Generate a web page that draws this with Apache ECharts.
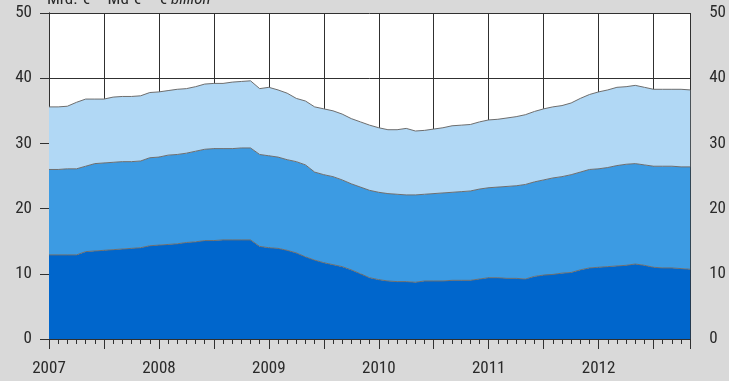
<!DOCTYPE html>
<html>
<head>
<meta charset="utf-8">
<script src="https://cdn.jsdelivr.net/npm/echarts@6/dist/echarts.min.js"></script>
<style>
  html, body { margin: 0; padding: 0; background: #d9d9d9; }
  #chart { width: 729px; height: 381px; }
</style>
</head>
<body>
<div id="chart"></div>
<script>
// Monthly observations, January 2007 to November 2012
const months = [
  '2007-01','2007-02','2007-03','2007-04','2007-05','2007-06','2007-07','2007-08','2007-09','2007-10','2007-11','2007-12',
  '2008-01','2008-02','2008-03','2008-04','2008-05','2008-06','2008-07','2008-08','2008-09','2008-10','2008-11','2008-12',
  '2009-01','2009-02','2009-03','2009-04','2009-05','2009-06','2009-07','2009-08','2009-09','2009-10','2009-11','2009-12',
  '2010-01','2010-02','2010-03','2010-04','2010-05','2010-06','2010-07','2010-08','2010-09','2010-10','2010-11','2010-12',
  '2011-01','2011-02','2011-03','2011-04','2011-05','2011-06','2011-07','2011-08','2011-09','2011-10','2011-11','2011-12',
  '2012-01','2012-02','2012-03','2012-04','2012-05','2012-06','2012-07','2012-08','2012-09','2012-10','2012-11'
];

const yearLabels = ['2007', '2008', '2009', '2010', '2011', '2012'];

// € billion, stacked from the bottom up
const lower = [
  12.9, 12.9, 12.9, 12.9, 13.4, 13.5, 13.6, 13.7, 13.8, 13.9, 14.0, 14.3,
  14.4, 14.5, 14.6, 14.8, 14.9, 15.1, 15.1, 15.2, 15.2, 15.2, 15.2, 14.2,
  14.0, 13.9, 13.6, 13.2, 12.6, 12.1, 11.7, 11.4, 11.1, 10.6, 10.0, 9.4,
  9.1, 8.9, 8.8, 8.8, 8.7, 8.9, 8.9, 8.9, 9.0, 9.0, 9.0, 9.2,
  9.4, 9.4, 9.3, 9.3, 9.2, 9.6, 9.8, 9.9, 10.1, 10.2, 10.6, 10.9,
  11.0, 11.1, 11.2, 11.3, 11.5, 11.3, 11.0, 10.9, 10.9, 10.8, 10.7
];
const middle = [
  13.1, 13.1, 13.2, 13.2, 13.1, 13.4, 13.4, 13.4, 13.4, 13.3, 13.3, 13.5,
  13.5, 13.7, 13.7, 13.7, 13.9, 14.0, 14.1, 14.0, 14.0, 14.1, 14.1, 14.1,
  14.1, 14.0, 13.9, 14.0, 14.1, 13.5, 13.5, 13.5, 13.3, 13.2, 13.3, 13.4,
  13.4, 13.4, 13.4, 13.3, 13.4, 13.3, 13.4, 13.5, 13.5, 13.6, 13.7, 13.8,
  13.8, 13.9, 14.1, 14.2, 14.5, 14.5, 14.6, 14.8, 14.8, 15.0, 15.0, 15.1,
  15.1, 15.2, 15.4, 15.5, 15.4, 15.4, 15.5, 15.6, 15.6, 15.6, 15.7
];
const upper = [
  9.6, 9.6, 9.6, 10.2, 10.3, 9.9, 9.8, 10.0, 10.0, 10.0, 10.0, 10.0,
  10.0, 9.9, 10.0, 9.9, 9.9, 10.0, 10.0, 10.0, 10.2, 10.2, 10.3, 10.1,
  10.5, 10.3, 10.2, 9.7, 9.8, 10.0, 10.1, 10.1, 10.1, 10.0, 10.0, 10.0,
  9.9, 9.8, 9.9, 10.2, 9.8, 9.8, 9.9, 10.0, 10.2, 10.2, 10.2, 10.3,
  10.4, 10.4, 10.5, 10.6, 10.7, 10.8, 10.9, 10.9, 10.9, 11.0, 11.3, 11.5,
  11.8, 11.9, 12.0, 11.9, 12.0, 11.9, 11.8, 11.8, 11.8, 11.9, 11.8
];

const FONT = '"Roboto Condensed", "Liberation Sans Narrow", "DejaVu Sans Condensed", "Open Sans Condensed", "Liberation Sans", sans-serif';
const STRETCH = 'condensed';
const INK = '#2a2a2a';
const GRIDLINE = '#303030';
const EDGE = '#6e6e6e';

const chart = echarts.init(document.getElementById('chart'), null, { renderer: 'canvas' });

const lastMonth = months.length - 1;

function areaSeries(name, values, color) {
  return {
    name: name,
    type: 'line',
    stack: 'total',
    xAxisIndex: 2,
    yAxisIndex: 0,
    data: values,
    symbol: 'none',
    smooth: false,
    lineStyle: { color: EDGE, width: 1 },
    areaStyle: { color: color, opacity: 1 },
    emphasis: { disabled: true },
    animation: false
  };
}

const labelFont = { color: INK, fontFamily: FONT, fontWeight: STRETCH, fontSize: 17 };

chart.setOption({
  backgroundColor: '#d9d9d9',
  animation: false,
  grid: {
    left: 49, right: 35, top: 13, bottom: 42,
    show: true, backgroundColor: '#ffffff', borderWidth: 0
  },
  graphic: [{
    type: 'text',
    left: 47,
    top: -9,
    style: {
      text: '{a|Mrd. € – Md € – € }{b|billion}',
      rich: {
        a: { fontFamily: FONT, fontWeight: STRETCH, fontSize: 17, fill: INK },
        b: { fontFamily: FONT, fontWeight: STRETCH, fontStyle: 'italic', fontSize: 17, fill: INK }
      }
    }
  }],
  xAxis: [
    {
      // half-year grid, long ticks, year labels
      type: 'value', min: 0, max: lastMonth, interval: 6,
      position: 'bottom',
      axisLine: { show: true, lineStyle: { color: GRIDLINE, width: 1 } },
      axisTick: { show: true, length: 10, lineStyle: { color: GRIDLINE, width: 1 } },
      axisLabel: Object.assign({
        show: true, margin: 21,
        formatter: v => (v % 12 === 0 && v / 12 < yearLabels.length) ? yearLabels[v / 12] : ''
      }, labelFont),
      splitLine: { show: true, lineStyle: { color: GRIDLINE, width: 1 } }
    },
    {
      // monthly short ticks
      type: 'value', min: 0, max: lastMonth, interval: 1,
      position: 'bottom',
      axisLine: { show: false },
      axisTick: { show: true, length: 5, lineStyle: { color: GRIDLINE, width: 1 } },
      axisLabel: { show: false },
      splitLine: { show: false }
    },
    {
      // month categories carrying the stacked areas
      type: 'category', data: months, boundaryGap: false,
      position: 'bottom', show: false
    }
  ],
  yAxis: [
    {
      type: 'value', min: 0, max: 50, interval: 10,
      position: 'left',
      axisLine: { show: true, lineStyle: { color: GRIDLINE, width: 1 } },
      axisTick: { show: true, length: 9, lineStyle: { color: GRIDLINE, width: 1 } },
      axisLabel: Object.assign({ margin: 17 }, labelFont),
      splitLine: { show: true, lineStyle: { color: GRIDLINE, width: 1 } }
    },
    {
      type: 'value', min: 0, max: 50, interval: 10,
      position: 'right',
      axisLine: { show: true, lineStyle: { color: GRIDLINE, width: 1 } },
      axisTick: { show: true, length: 8, lineStyle: { color: GRIDLINE, width: 1 } },
      axisLabel: Object.assign({ margin: 19 }, labelFont),
      splitLine: { show: false }
    }
  ],
  series: [
    areaSeries('lower', lower, '#0066cc'),
    areaSeries('middle', middle, '#3c9be3'),
    areaSeries('upper', upper, '#b1d8f5')
  ]
});
</script>
</body>
</html>
